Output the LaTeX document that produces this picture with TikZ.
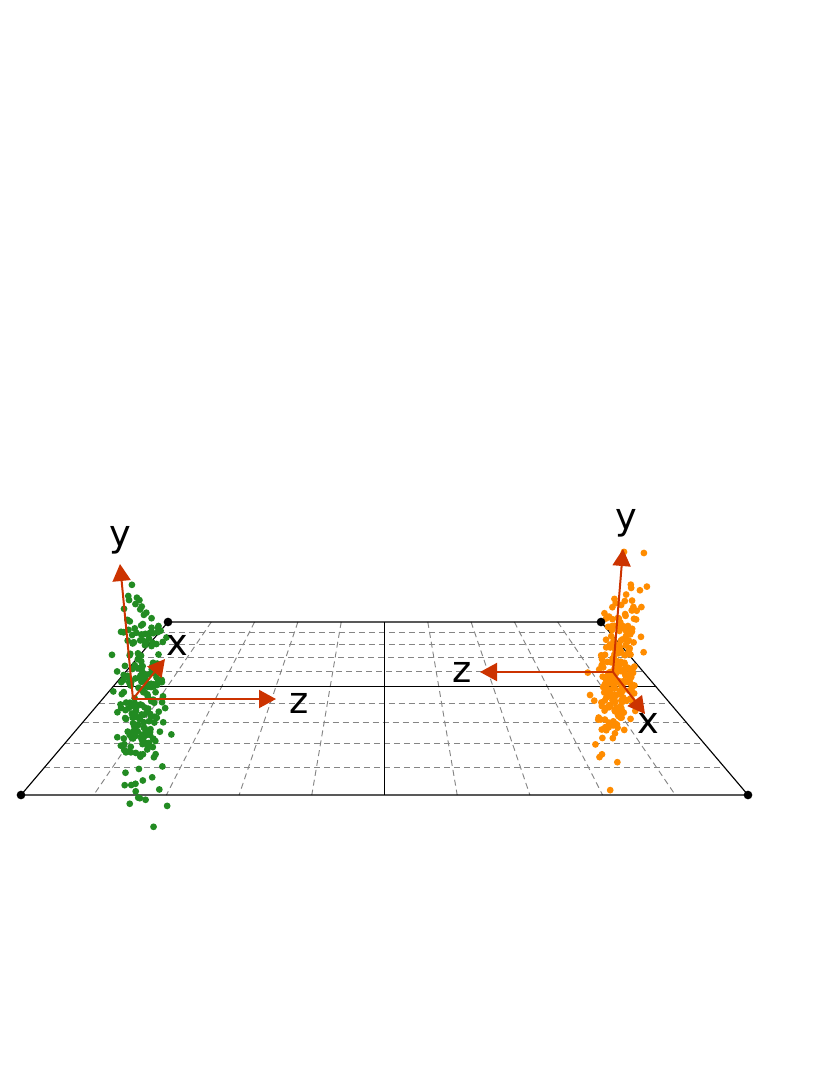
\documentclass[tikz,border=0pt]{standalone}
\usepackage{fontspec}
\setmainfont{DejaVu Sans}
\usetikzlibrary{arrows.meta,calc}
\definecolor{axred}{RGB}{204,51,0}
\definecolor{ptgreen}{RGB}{34,139,34}
\definecolor{ptorange}{RGB}{255,140,0}
\begin{document}
\begin{tikzpicture}[x=0.75pt,y=-0.75pt,
  edge/.style={black,line width=0.85pt},
  gridline/.style={black!48,line width=0.7pt,dash pattern=on 4.5pt off 3pt},
  corner/.style={circle,fill=black,inner sep=0pt,minimum size=6.5pt},
  axis/.style={axred,line width=1.5pt,-{Triangle[length=12.75pt,width=13.5pt]}},
  axlabel/.style={font=\fontsize{27.5}{30}\selectfont,inner sep=0pt},
  gpt/.style={fill=ptgreen},
  opt/.style={fill=ptorange}]
\useasboundingbox (0,0) rectangle (830,1075);
% corners
\coordinate (BL) at (168,622);
\coordinate (BR) at (601,622);
\coordinate (FL) at (21,795);
\coordinate (FR) at (748,795);
% grid: depth lines
\foreach \i in {1,2,3,4,6,7,8,9}{
  \draw[gridline] ($(BL)!\i/10!(BR)$) -- ($(FL)!\i/10!(FR)$);
}
% grid: cross lines (perspective spacing)
\foreach \i in {1,2,3,4,6,7,8,9}{
  \pgfmathsetmacro\f{(1/(1.679-0.0679*\i)-0.5956)/0.4044}
  \draw[gridline] ($(BL)!\f!(FL)$) -- ($(BR)!\f!(FR)$);
}
% solid outline
\draw[edge] (BL) -- (BR) -- (FR) -- (FL) -- cycle;
\draw[edge] ($(BL)!0.5!(BR)$) -- ($(FL)!0.5!(FR)$);
\pgfmathsetmacro\fm{(1/(1.679-0.0679*5)-0.5956)/0.4044}
\draw[edge] ($(BL)!\fm!(FL)$) -- ($(BR)!\fm!(FR)$);
% point clouds
\pgfmathsetseed{7}
\foreach \k in {1,...,230}{
  \pgfmathsetmacro\ua{rnd*0.995+0.004}
  \pgfmathsetmacro\ub{rnd}
  \pgfmathsetmacro\rr{sqrt(-2*ln(\ua))}
  \pgfmathsetmacro\px{140+12*\rr*cos(360*\ub)}
  \pgfmathsetmacro\py{697+45*\rr*sin(360*\ub)}
  \fill[gpt] (\px,\py) circle[radius=2.55pt];
}
\foreach \k in {1,...,230}{
  \pgfmathsetmacro\ua{rnd*0.995+0.004}
  \pgfmathsetmacro\ub{rnd}
  \pgfmathsetmacro\rr{sqrt(-2*ln(\ua))}
  \pgfmathsetmacro\gy{40*\rr*sin(360*\ub)}
  \pgfmathsetmacro\px{618+10*\rr*cos(360*\ub)-0.1*\gy}
  \pgfmathsetmacro\py{670+\gy}
  \fill[opt] (\px,\py) circle[radius=2.55pt];
}
% corner dots
\foreach \c in {BL,BR,FL,FR}{ \node[corner] (dot\c) at (\c) {}; }
% left frame
\coordinate (OL) at (133,699);
\coordinate (yL) at (120,564);
\coordinate (xL) at (165,659);
\coordinate (zL) at (276,699);
\draw[axis] (OL) -- (yL);
\draw[axis] (OL) -- (xL);
\draw[axis] (OL) -- (zL);
\node[axlabel] (ylabL) at (120,540) {y};
\node[axlabel] (xlabL) at (177,645) {x};
\node[axlabel] (zlabL) at (299,703) {z};
% right frame
\coordinate (OR) at (613,672);
\coordinate (yR) at (623,549);
\coordinate (xR) at (645,714);
\coordinate (zR) at (480,672);
\draw[axis] (OR) -- (yR);
\draw[axis] (OR) -- (xR);
\draw[axis] (OR) -- (zR);
\node[axlabel] (ylabR) at (626,523) {y};
\node[axlabel] (xlabR) at (648,723) {x};
\node[axlabel] (zlabR) at (462,672) {z};
\end{tikzpicture}
\end{document}
